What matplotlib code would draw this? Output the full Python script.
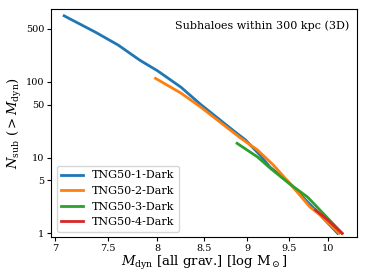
import matplotlib
matplotlib.use("Agg")
import matplotlib.pyplot as plt
from matplotlib.ticker import FixedLocator, FixedFormatter, NullLocator

plt.rcParams['font.family'] = ['DejaVu Serif']
plt.rcParams['mathtext.fontset'] = 'dejavuserif'

# data: M_dyn (log Msun) vs N_sub(>M_dyn)
m1 = [7.08, 7.38, 7.60, 7.82, 8.00, 8.25, 8.46, 8.80, 8.98, 9.15, 9.27, 9.50, 9.68, 9.84, 10.13]
n1 = [743, 449, 305, 192, 140, 85, 51, 24.5, 17, 10.8, 7.5, 4.75, 3.0, 2.03, 1.0]

m2 = [7.98, 8.25, 8.46, 8.92, 9.12, 9.31, 9.50, 9.77, 9.90, 10.15]
n2 = [111, 71, 47, 18.1, 12.6, 8.0, 4.75, 2.22, 1.75, 1.0]

m3 = [8.88, 9.12, 9.27, 9.50, 9.74, 10.19]
n3 = [15.4, 10.2, 7.3, 4.6, 3.0, 1.0]

m4 = [9.84, 10.00, 10.19]
n4 = [2.03, 1.5, 1.0]

labels = ['TNG50-1-Dark', 'TNG50-2-Dark', 'TNG50-3-Dark', 'TNG50-4-Dark']
xticks = [7, 7.5, 8, 8.5, 9, 9.5, 10]
xticklabels = ['7', '7.5', '8', '8.5', '9', '9.5', '10']
yticks = [1, 5, 10, 50, 100, 500]
yticklabels = ['1', '5', '10', '50', '100', '500']

fig = plt.figure(figsize=(3.65, 2.78), dpi=100)
ax = fig.add_axes([0.14, 0.147, 0.838, 0.822])

for m, n, lab, c in zip([m1, m2, m3, m4], [n1, n2, n3, n4], labels,
                        ['#1f77b4', '#ff7f0e', '#2ca02c', '#d62728']):
    ax.plot(m, n, color=c, lw=2.0, label=lab)

ax.set_xscale('log')
ax.set_yscale('log')
ax.set_xlim(6.96, 10.39)
ax.set_ylim(0.89, 925)
ax.xaxis.set_major_locator(FixedLocator(xticks))
ax.xaxis.set_major_formatter(FixedFormatter(xticklabels))
ax.xaxis.set_minor_locator(NullLocator())
ax.yaxis.set_major_locator(FixedLocator(yticks))
ax.yaxis.set_major_formatter(FixedFormatter(yticklabels))
ax.yaxis.set_minor_locator(NullLocator())
ax.tick_params(labelsize=7, length=3, width=0.8, pad=2)

ax.set_xlabel(r'$M_{\rm dyn}$ [all grav.] [log M$_\odot$]', fontsize=9.5, labelpad=1)
ax.set_ylabel(r'$N_{\rm sub}$ ($>M_{\rm dyn}$)', fontsize=9.5, labelpad=1)

ax.text(0.975, 0.95, 'Subhaloes within 300 kpc (3D)', transform=ax.transAxes,
        ha='right', va='top', fontsize=8)

ax.legend(loc='lower left', fontsize=8, handlelength=2.0, borderaxespad=0.5)

fig.savefig('out.png', dpi=100)
